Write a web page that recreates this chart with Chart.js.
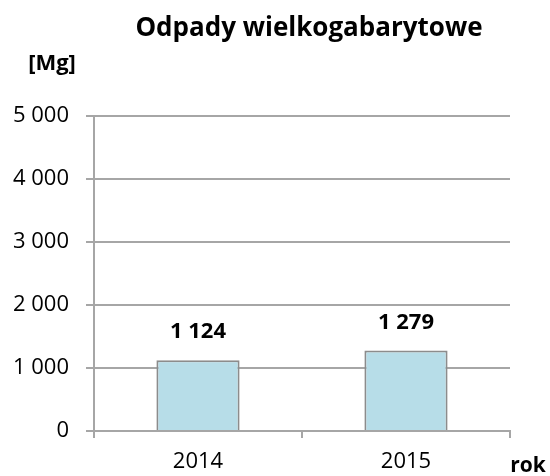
<!DOCTYPE html>
<html>
<head>
<meta charset="utf-8">
<script src="https://cdn.jsdelivr.net/npm/chart.js@4"></script>
<style>
  html, body { margin: 0; padding: 0; background: #ffffff; }
  #wrap { width: 550px; height: 476px; }
</style>
</head>
<body>
<div id="wrap"><canvas id="chart" width="550" height="476"></canvas></div>
<script>
// --- dane wykresu ---
const lata = ['2014', '2015'];
const odpady = [1124, 1279];
const yTicks = [0, 1000, 2000, 3000, 4000, 5000];

const tytul = 'Odpady wielkogabarytowe';
const jednostka = '[Mg]';
const osX = 'rok';

const FONT = '"Open Sans", "DejaVu Sans", sans-serif';

// 1124 -> "1 124"
function formatuj(v) {
    return String(v).replace(/\B(?=(\d{3})+(?!\d))/g, ' ');
}

// Rysuje tytuł, opisy osi i etykiety nad słupkami.
const opisyPlugin = {
    id: 'opisy',
    afterDraw(chart) {
        const ctx = chart.ctx;
        ctx.save();
        ctx.fillStyle = '#000000';

        ctx.font = 'bold 26px ' + FONT;
        ctx.textAlign = 'center';
        ctx.textBaseline = 'alphabetic';
        ctx.fillText(tytul, 309, 36);

        ctx.font = 'bold 22px ' + FONT;
        ctx.fillText(jednostka, 52, 70);

        ctx.font = 'bold 21px ' + FONT;
        ctx.fillText(osX, 528, 472);

        // wartości nad słupkami
        ctx.font = 'bold 22px ' + FONT;
        ctx.textBaseline = 'middle';
        const meta = chart.getDatasetMeta(0);
        meta.data.forEach((bar, i) => {
            ctx.fillText(formatuj(odpady[i]), bar.x, bar.y - 28);
        });
        ctx.restore();
    }
};

new Chart(document.getElementById('chart'), {
    type: 'bar',
    data: {
        labels: lata,
        datasets: [{
            data: odpady,
            backgroundColor: '#b7dde8',
            borderColor: '#8c8c8c',
            borderWidth: 2,
            barPercentage: 0.4,
            categoryPercentage: 1
        }]
    },
    options: {
        responsive: false,
        animation: false,
        layout: {
            padding: { top: 116, right: 40, bottom: 0, left: 0 }
        },
        plugins: {
            legend: { display: false },
            tooltip: { enabled: false }
        },
        scales: {
            x: {
                afterFit(scale) { scale.height = 45; },
                grid: {
                    offset: true,
                    drawOnChartArea: false,
                    drawTicks: true,
                    tickLength: 7,
                    color: '#a6a6a6',
                    lineWidth: 2
                },
                border: { display: true, color: '#a6a6a6', width: 2 },
                ticks: {
                    color: '#000000',
                    font: { family: FONT, size: 22 },
                    padding: 11
                }
            },
            y: {
                min: 0,
                max: 5000,
                afterFit(scale) { scale.width = 94; },
                afterBuildTicks(scale) {
                    scale.ticks = yTicks.map(v => ({ value: v }));
                },
                grid: {
                    color: '#a6a6a6',
                    lineWidth: 2,
                    drawTicks: true,
                    tickLength: 8
                },
                border: { display: true, color: '#a6a6a6', width: 2 },
                ticks: {
                    color: '#000000',
                    font: { family: FONT, size: 22 },
                    padding: 17,
                    callback: v => formatuj(v)
                }
            }
        }
    },
    plugins: [opisyPlugin]
});
</script>
</body>
</html>
